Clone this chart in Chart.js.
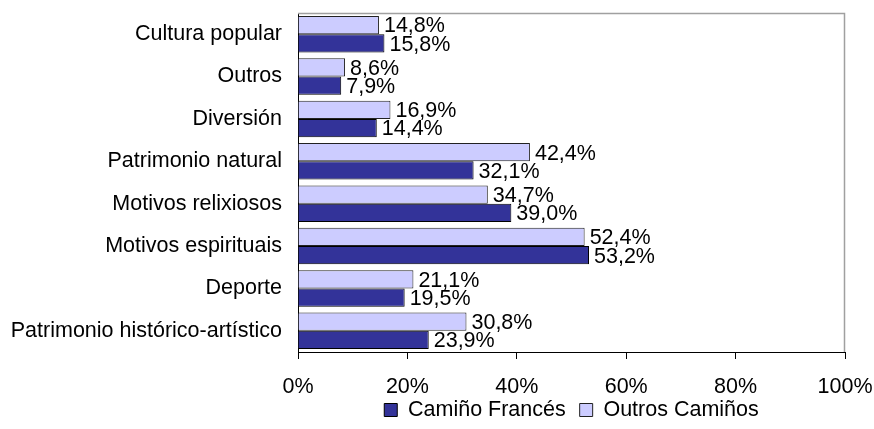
<!DOCTYPE html>
<html>
<head>
<meta charset="utf-8">
<script src="https://cdn.jsdelivr.net/npm/chart.js@4/dist/chart.umd.min.js"></script>
<style>
  html, body { margin: 0; padding: 0; background: #fff; }
  #wrap { width: 874px; height: 429px; }
</style>
</head>
<body>
<div id="wrap"><canvas id="motivosChart"></canvas></div>
<script>
// Categories, top to bottom
const categories = [
    'Cultura popular',
    'Outros',
    'Diversión',
    'Patrimonio natural',
    'Motivos relixiosos',
    'Motivos espirituais',
    'Deporte',
    'Patrimonio histórico-artístico'
];
const outrosCaminos = [14.8, 8.6, 16.9, 42.4, 34.7, 52.4, 21.1, 30.8];
const caminoFrances = [15.8, 7.9, 14.4, 32.1, 39.0, 53.2, 19.5, 23.9];
const xTicks = [0, 20, 40, 60, 80, 100];

const FONT = { family: '"Liberation Sans", Arial, sans-serif', size: 21.5 };

// Labels at the end of each bar, "14,8%" style
const barLabels = {
    id: 'barLabels',
    afterDatasetsDraw(chart) {
        const ctx = chart.ctx;
        ctx.save();
        ctx.font = `${FONT.size}px ${FONT.family}`;
        ctx.fillStyle = '#000';
        ctx.textAlign = 'left';
        ctx.textBaseline = 'middle';
        chart.data.datasets.forEach((ds, i) => {
            chart.getDatasetMeta(i).data.forEach((bar, j) => {
                const txt = ds.data[j].toFixed(1).replace('.', ',') + '%';
                ctx.fillText(txt, bar.x + 5, bar.y + 1.5);
            });
        });
        ctx.restore();
    }
};

// Grey frame on top and right of the plot area
const plotFrame = {
    id: 'plotFrame',
    beforeDatasetsDraw(chart) {
        const { ctx, chartArea: a } = chart;
        ctx.save();
        ctx.strokeStyle = '#a0a0a0';
        ctx.lineWidth = 1.5;
        ctx.beginPath();
        ctx.moveTo(a.left, a.top + 0.5);
        ctx.lineTo(a.right - 0.5, a.top + 0.5);
        ctx.lineTo(a.right - 0.5, a.bottom);
        ctx.stroke();
        ctx.restore();
    }
};

new Chart(document.getElementById('motivosChart'), {
    type: 'bar',
    data: {
        labels: categories,
        datasets: [
            {
                label: 'Outros Camiños',
                data: outrosCaminos,
                backgroundColor: '#CCCCFF',
                borderColor: '#222',
                borderWidth: 1
            },
            {
                label: 'Camiño Francés',
                data: caminoFrances,
                backgroundColor: '#333399',
                borderColor: '#000',
                borderWidth: 1
            }
        ]
    },
    options: {
        indexAxis: 'y',
        responsive: true,
        maintainAspectRatio: false,
        animation: false,
        devicePixelRatio: 1,
        layout: { padding: { top: 13, right: 29, left: 0, bottom: -1.75 } },
        datasets: { bar: { categoryPercentage: 0.86, barPercentage: 1 } },
        scales: {
            x: {
                min: 0,
                max: 100,
                afterBuildTicks: scale => { scale.ticks = xTicks.map(v => ({ value: v })); },
                afterFit: scale => {
                    scale.paddingLeft = 0;
                    scale.paddingRight = 0;
                    // padding is counted twice in the height, drop the spare one
                    scale.height -= scale.options.ticks.padding;
                },
                grid: { drawOnChartArea: false, tickLength: 7, color: '#000' },
                border: { color: '#000', width: 1 },
                ticks: {
                    padding: 17.75,
                    color: '#000',
                    font: { ...FONT, lineHeight: 0.953 },
                    callback: v => v + '%'
                }
            },
            y: {
                afterFit: scale => {
                    scale.width = 298;
                    scale.paddingTop = 0;
                    scale.paddingBottom = 0;
                },
                grid: { display: false, drawTicks: false },
                border: { display: true, color: '#000', width: 1 },
                ticks: { padding: 16, color: '#000', font: FONT }
            }
        },
        plugins: {
            legend: {
                position: 'bottom',
                fullSize: false,
                reverse: true,
                labels: {
                    color: '#000',
                    font: FONT,
                    boxWidth: 13,
                    boxHeight: 13,
                    padding: 2,
                    // a little room after the first entry
                    generateLabels: chart => Chart.defaults.plugins.legend.labels.generateLabels(chart)
                        .map((item, i) => ({ ...item, text: i === 0 ? item.text : item.text + '  ' }))
                }
            },
            tooltip: { enabled: false }
        }
    },
    plugins: [barLabels, plotFrame]
});
</script>
</body>
</html>
